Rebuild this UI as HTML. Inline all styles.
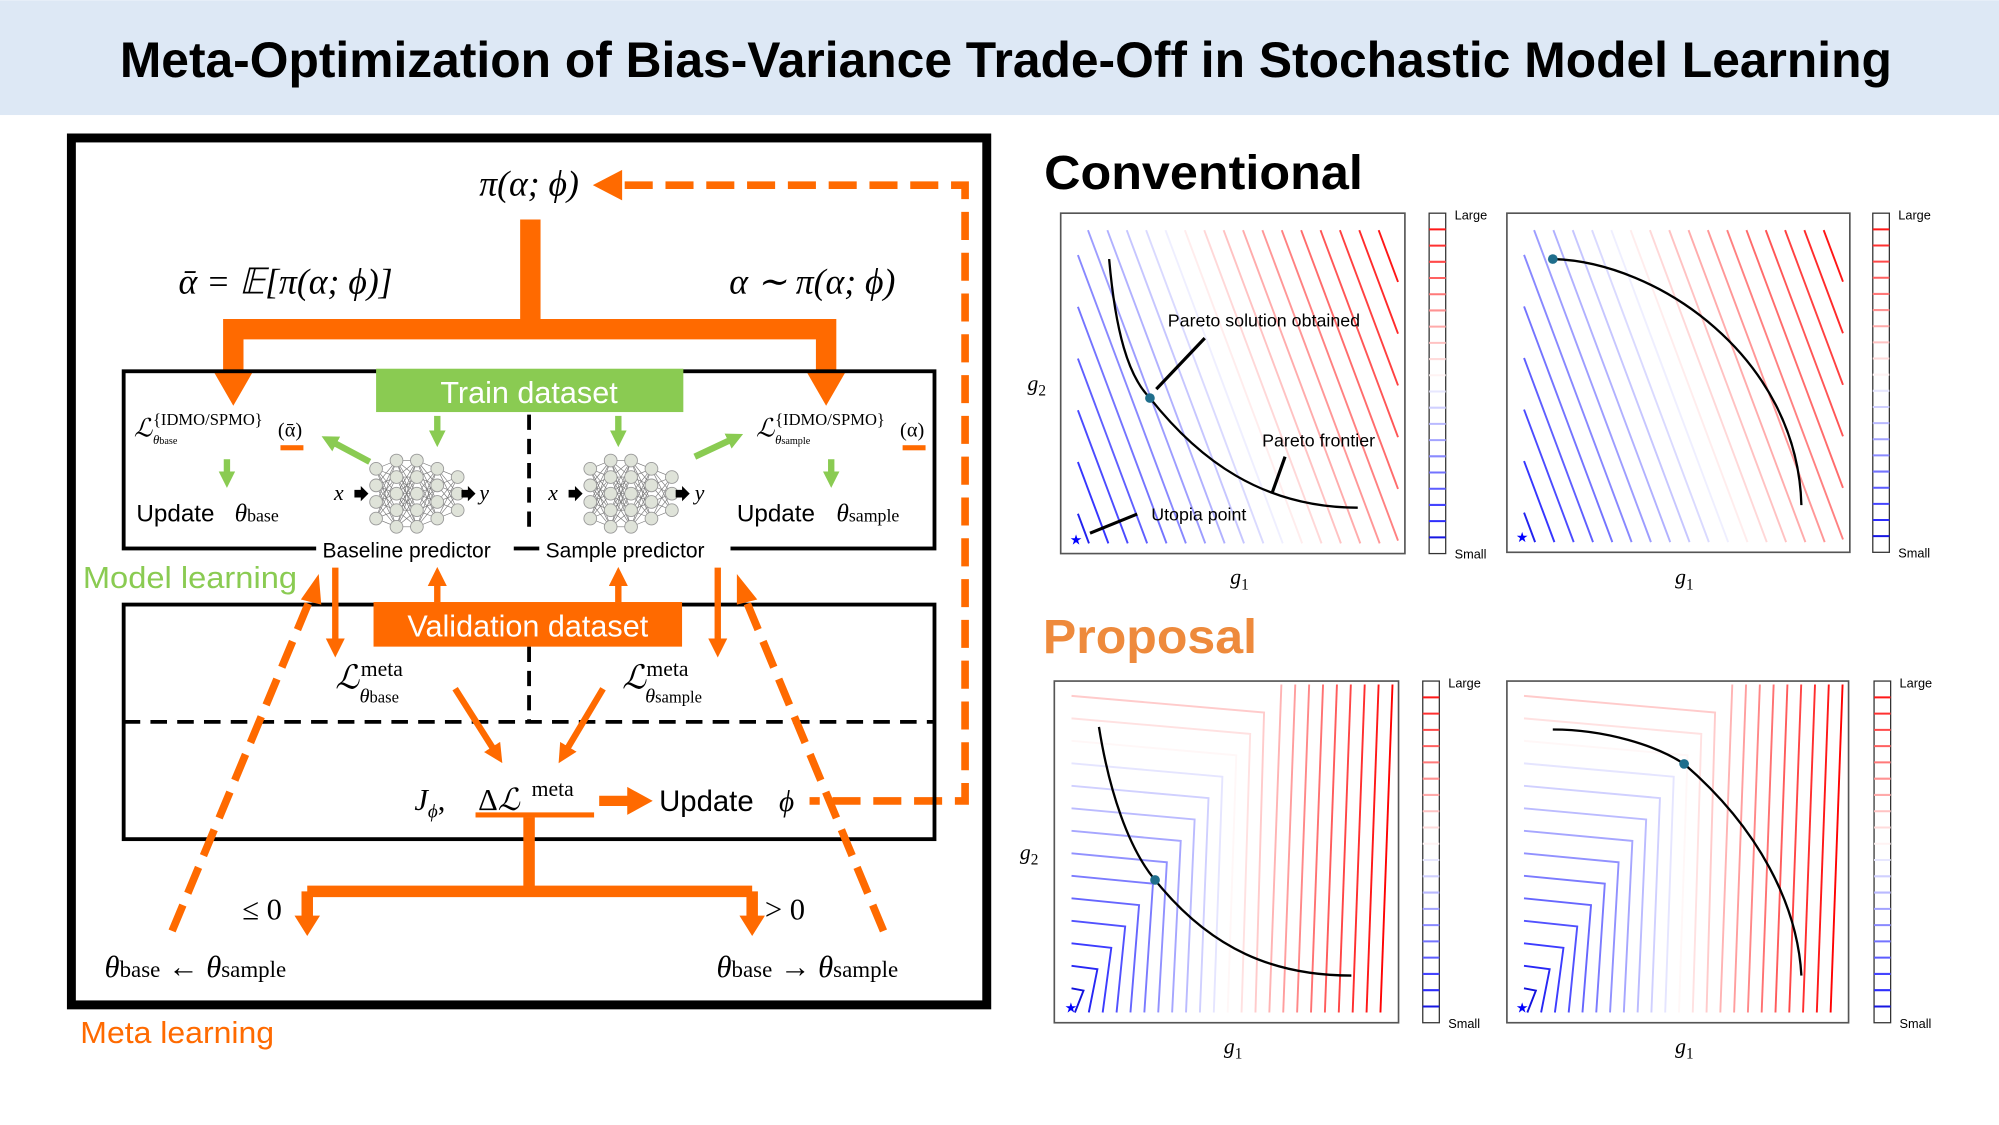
<!DOCTYPE html>
<html><head><meta charset="utf-8"><style>
html,body{margin:0;padding:0;background:#fff;}
svg{display:block;}
.m{font-family:"Liberation Serif",serif;font-style:italic;}
.r{font-family:"Liberation Serif",serif;}
.s{font-family:"Liberation Sans",sans-serif;}
</style></head><body>
<svg id="S" width="1999" height="1125" viewBox="0 0 1568 882" xmlns="http://www.w3.org/2000/svg">
<defs>
<marker id="ao" viewBox="0 0 10 10" refX="5" refY="5" markerWidth="3" markerHeight="3" orient="auto"><path d="M0,0L10,5L0,10z" fill="#ff6a00"/></marker>
<marker id="ag" viewBox="0 0 10 10" refX="5" refY="5" markerWidth="2.6" markerHeight="2.6" orient="auto"><path d="M0,0L10,5L0,10z" fill="#8acb52"/></marker>
</defs>
<rect x="0" y="0" width="1568" height="90" fill="#dde8f5"/>
<text x="789" y="60" text-anchor="middle" class="s" font-weight="bold" font-size="39" fill="#000" textLength="1390" lengthAdjust="spacingAndGlyphs">Meta-Optimization of Bias-Variance Trade-Off in Stochastic Model Learning</text>

<rect x="56" y="108" width="718" height="680" fill="none" stroke="#000" stroke-width="7"/>

<text x="415" y="153" text-anchor="middle" class="m" font-size="28">π(α; ϕ)</text>
<path d="M465,145 L488,133 L488,157z" fill="#ff6a00"/>
<path d="M490,145 H757 V628 H635" fill="none" stroke="#ff6a00" stroke-width="6" stroke-dasharray="22,10"/>
<path d="M416,172 V258 M183,258 H648 M183,250 V296 M648,250 V296" fill="none" stroke="#ff6a00" stroke-width="16"/>
<path d="M168,292 L198,292 L183,318z M633,292 L663,292 L648,318z" fill="#ff6a00"/>
<text x="140" y="230" class="m" font-size="28">ᾱ = 𝔼[π(α; ϕ)]</text>
<text x="572" y="230" class="m" font-size="28">α ∼ π(α; ϕ)</text>

<rect x="97" y="291" width="636" height="139" fill="none" stroke="#000" stroke-width="3"/>
<rect x="295" y="289" width="241" height="34" fill="#8acb52"/>
<text x="415" y="316" text-anchor="middle" class="s" font-size="24" fill="#fff">Train dataset</text>
<line x1="415" y1="325" x2="415" y2="420" stroke="#000" stroke-width="3" stroke-dasharray="12,7"/>
<rect x="248" y="420" width="155" height="20" fill="#fff"/>
<rect x="423" y="420" width="150" height="20" fill="#fff"/>
<text x="253" y="437" class="s" font-size="16.5">Baseline predictor</text>
<text x="428" y="437" class="s" font-size="16.5">Sample predictor</text>

<text x="105" y="342" class="m" font-size="20">ℒ</text>
<text x="120" y="333" class="r" font-size="13">{IDMO/SPMO}</text>
<text x="120" y="348" class="m" font-size="10">θ<tspan class="r" font-style="normal" font-size="8">base</tspan></text>
<text x="218" y="342" class="r" font-size="16">(ᾱ)</text>
<rect x="220" y="349" width="18" height="4" fill="#ff6a00"/>
<text x="593" y="342" class="m" font-size="20">ℒ</text>
<text x="608" y="333" class="r" font-size="13">{IDMO/SPMO}</text>
<text x="608" y="348" class="m" font-size="10">θ<tspan class="r" font-style="normal" font-size="8">sample</tspan></text>
<text x="706" y="342" class="r" font-size="16">(α)</text>
<rect x="708" y="349" width="18" height="4" fill="#ff6a00"/>

<text x="107" y="409" class="s" font-size="19">Update</text>
<text x="184" y="409" class="m" font-size="20">θ<tspan class="r" font-style="normal" font-size="14">base</tspan></text>
<text x="578" y="409" class="s" font-size="19">Update</text>
<text x="656" y="409" class="m" font-size="20">θ<tspan class="r" font-style="normal" font-size="14">sample</tspan></text>

<g stroke="#8acb52" stroke-width="5" fill="none" marker-end="url(#ag)">
<line x1="178" y1="360" x2="178" y2="376"/>
<line x1="652" y1="360" x2="652" y2="376"/>
<line x1="343" y1="326" x2="343" y2="344"/>
<line x1="485" y1="326" x2="485" y2="344"/>
<line x1="290" y1="362" x2="258" y2="345"/>
<line x1="545" y1="358" x2="577" y2="343"/>
</g>
<g id="nn"></g>
<text x="262" y="392" class="m" font-size="17">x</text>
<text x="376" y="392" class="m" font-size="17">y</text>
<text x="430" y="392" class="m" font-size="17">x</text>
<text x="545" y="392" class="m" font-size="17">y</text>

<text x="65" y="461" class="s" font-size="24" fill="#8acb52" textLength="168" lengthAdjust="spacingAndGlyphs">Model learning</text>

<rect x="97" y="474" width="636" height="184" fill="none" stroke="#000" stroke-width="3"/>
<line x1="97" y1="566" x2="733" y2="566" stroke="#000" stroke-width="3" stroke-dasharray="13,8"/>
<line x1="415" y1="507" x2="415" y2="566" stroke="#000" stroke-width="3" stroke-dasharray="12,7"/>
<rect x="293" y="472" width="242" height="35" fill="#ff6a00"/>
<text x="414" y="499" text-anchor="middle" class="s" font-size="24" fill="#fff">Validation dataset</text>

<g stroke="#ff6a00" stroke-width="5" fill="none" marker-end="url(#ao)">
<line x1="263" y1="445" x2="263" y2="508"/>
<line x1="563" y1="445" x2="563" y2="508"/>
<line x1="343" y1="472" x2="343" y2="452"/>
<line x1="485" y1="472" x2="485" y2="452"/>
<line x1="357" y1="540" x2="390" y2="592"/>
<line x1="473" y1="540" x2="442" y2="592"/>
</g>
<g stroke="#ff6a00" stroke-width="6" fill="none" stroke-dasharray="22,10">
<line x1="135" y1="730" x2="244" y2="468"/>
<line x1="693" y1="730" x2="584" y2="468"/>
</g>
<path d="M250,450 L236,470 L252,474z M578,450 L594,470 L578,474z" fill="#ff6a00"/>

<text x="263" y="540" class="m" font-size="26">ℒ</text>
<text x="283" y="530" class="r" font-size="17">meta</text>
<text x="282" y="551" class="m" font-size="16">θ<tspan class="r" font-style="normal" font-size="13">base</tspan></text>
<text x="488" y="540" class="m" font-size="26">ℒ</text>
<text x="507" y="530" class="r" font-size="17">meta</text>
<text x="506" y="551" class="m" font-size="16">θ<tspan class="r" font-style="normal" font-size="13">sample</tspan></text>

<text x="325" y="635" class="m" font-size="24">J<tspan font-size="15" dy="6">ϕ</tspan><tspan dy="-6" class="r" font-style="normal">, </tspan></text>
<text x="375" y="635" class="r" font-size="24">Δ<tspan class="m">ℒ</tspan></text>
<text x="417" y="624" class="r" font-size="17">meta</text>
<rect x="373" y="637" width="93" height="4" fill="#ff6a00"/>
<path d="M470,628 H495" stroke="#ff6a00" stroke-width="8"/>
<path d="M492,617 L512,628 L492,639z" fill="#ff6a00"/>
<text x="517" y="636" class="s" font-size="23">Update</text>
<text x="611" y="636" class="m" font-size="23">ϕ</text>

<path d="M415,641 V699 M241,699 H590 M241,699 V722 M590,699 V722" fill="none" stroke="#ff6a00" stroke-width="9"/>
<path d="M231,718 L251,718 L241,734z M580,718 L600,718 L590,734z" fill="#ff6a00"/>
<text x="190" y="721" class="r" font-size="24">≤ 0</text>
<text x="600" y="721" class="r" font-size="24">&gt; 0</text>
<text x="82" y="766" class="m" font-size="24">θ<tspan class="r" font-style="normal" font-size="18">base</tspan><tspan class="r" font-style="normal"> ← </tspan>θ<tspan class="r" font-style="normal" font-size="18">sample</tspan></text>
<text x="562" y="766" class="m" font-size="24">θ<tspan class="r" font-style="normal" font-size="18">base</tspan><tspan class="r" font-style="normal"> → </tspan>θ<tspan class="r" font-style="normal" font-size="18">sample</tspan></text>
<text x="63" y="818" class="s" font-size="24" fill="#ff6a00" textLength="152" lengthAdjust="spacingAndGlyphs">Meta learning</text>

<text x="819" y="148" class="s" font-weight="bold" font-size="38" textLength="250" lengthAdjust="spacingAndGlyphs">Conventional</text>
<text x="818" y="512" class="s" font-weight="bold" font-size="38" fill="#ee8a3c" textLength="168" lengthAdjust="spacingAndGlyphs">Proposal</text>
<g id="plots"></g>
<text x="806" y="306" class="m" font-size="17">g<tspan class="r" font-style="normal" font-size="12" dy="4">2</tspan></text>
<text x="800" y="674" class="m" font-size="17">g<tspan class="r" font-style="normal" font-size="12" dy="4">2</tspan></text>
<text x="965" y="458" class="m" font-size="17">g<tspan class="r" font-style="normal" font-size="12" dy="4">1</tspan></text>
<text x="1314" y="458" class="m" font-size="17">g<tspan class="r" font-style="normal" font-size="12" dy="4">1</tspan></text>
<text x="960" y="826" class="m" font-size="17">g<tspan class="r" font-style="normal" font-size="12" dy="4">1</tspan></text>
<text x="1314" y="826" class="m" font-size="17">g<tspan class="r" font-style="normal" font-size="12" dy="4">1</tspan></text>

<text x="916" y="256" class="s" font-size="14">Pareto solution obtained</text>
<text x="990" y="350" class="s" font-size="14">Pareto frontier</text>
<text x="903" y="408" class="s" font-size="14">Utopia point</text>
<g stroke="#000" stroke-width="2.5">
<line x1="907" y1="305" x2="945" y2="265"/>
<line x1="998" y1="386" x2="1008" y2="358"/>
<line x1="855" y1="418" x2="892" y2="403"/>
</g>
</svg>
<script>
var NS="http://www.w3.org/2000/svg",S=document.getElementById("plots");
function el(t,a,p){var e=document.createElementNS(NS,t);for(var k in a)e.setAttribute(k,a[k]);(p||S).appendChild(e);return e;}
function col(t){t=Math.max(0,Math.min(1,t));var r,g,b;if(t<0.5){r=g=Math.round(255*2*t*0.95);b=255;if(t<0.1){b=Math.round(200+550*t);} }else{r=255;g=b=Math.round(255*(2-2*t));}return "rgb("+r+","+g+","+b+")";}
function cbar(x,y1,y2){var g=el("g",{});el("rect",{x:x,y:y1,width:13,height:y2-y1,fill:"#fff",stroke:"#333","stroke-width":1},g);
var n=21;for(var i=1;i<n;i++){var yy=y2-(y2-y1)*i/n;el("line",{x1:x,x2:x+13,y1:yy,y2:yy,stroke:col(i/n),"stroke-width":1.6},g);}
var a=el("text",{x:x+20,y:y1+5,"font-family":"Liberation Sans,sans-serif","font-size":10},g);a.textContent="Large";
var b=el("text",{x:x+20,y:y2+4,"font-family":"Liberation Sans,sans-serif","font-size":10},g);b.textContent="Small";}
function frame(x,y,w,h){el("rect",{x:x,y:y,width:w,height:h,fill:"none",stroke:"#555","stroke-width":1.3});}
function conv(X,Y,W,H){var g=el("g",{});var k=2.7,N=24,cmax=k*0.98+0.95;
for(var i=0;i<N;i++){var c=0.1+i*(cmax-0.1)/(N-1);var pts=[];
var ys=[0.03,0.95];var xs=[0.05,0.98];
for(var j=0;j<2;j++){var x=xs[j],yv=c-k*x;if(yv>=ys[0]&&yv<=ys[1])pts.push([x,yv]);}
for(var j=0;j<2;j++){var yv=ys[j],x=(c-yv)/k;if(x>=xs[0]&&x<=xs[1])pts.push([x,yv]);}
if(pts.length<2)continue;pts.sort(function(a,b){return a[0]-b[0];});
el("line",{x1:X+W*pts[0][0],y1:Y+H*(1-pts[0][1]),x2:X+W*pts[pts.length-1][0],y2:Y+H*(1-pts[pts.length-1][1]),stroke:col(c/cmax),"stroke-width":1.5},g);}
frame(X,Y,W,H);}
function prop(X,Y,W,H){var g=el("g",{});var N=23;
for(var i=0;i<N;i++){var c=0.06+i*1.6/N;var cx=0.05+0.58*c,cy=0.04+0.9*c;var d;
var bx=cx-0.025;
if(cy<0.97){var ly=cy+0.08*cx;d="M"+(X+W*0.05)+","+(Y+H*(1-ly))+" L"+(X+W*cx)+","+(Y+H*(1-cy))+" L"+(X+W*bx)+","+(Y+H*0.97);}
else{var tx=cx+0.01;if(tx>1)continue;d="M"+(X+W*tx)+","+(Y+H*0.01)+" L"+(X+W*bx)+","+(Y+H*0.97);}
el("path",{d:d,fill:"none",stroke:col(c/1.6),"stroke-width":1.5},g);}
frame(X,Y,W,H);}
conv(832,167,270,267);cbar(1121,167,434);
conv(1182,167,269,266);cbar(1469,167,433);
prop(827,534,270,268);cbar(1116,534,802);
prop(1182,534,268,268);cbar(1470,534,802);
function curve(d){el("path",{d:d,fill:"none",stroke:"#000","stroke-width":1.8});}
function dot(x,y){el("circle",{cx:x,cy:y,r:3.8,fill:"#1f6e8c"});}
function star(x,y){var t=el("text",{x:x,y:y,"font-size":11,fill:"#00f","text-anchor":"middle","font-family":"DejaVu Sans,sans-serif"});t.textContent="★";}
curve("M870,203 C875,260 885,295 902,312 C940,360 990,398 1065,398");dot(902,312);star(844,427);
curve("M1218,203 C1300,205 1410,280 1413,396");dot(1218,203);star(1194,425);
curve("M862,570 C870,620 885,665 906,690 C950,745 1000,765 1060,765");dot(906,690);star(840,794);
curve("M1218,572 C1260,572 1300,585 1321,599 C1380,650 1410,710 1413,765");dot(1321,599);star(1194,794);
var NNg=document.getElementById("nn");
function nn(x0,y0){var P=[];
for(var c=0;c<5;c++){var n=[4,5,5,4,3][c];var arr=[];for(var i=0;i<n;i++)arr.push([x0+c*16,y0+28-(n-1)*6.5+i*13]);P.push(arr);}
for(var c=0;c<4;c++)for(var a=0;a<P[c].length;a++)for(var b=0;b<P[c+1].length;b++)el("line",{x1:P[c][a][0],y1:P[c][a][1],x2:P[c+1][b][0],y2:P[c+1][b][1],stroke:"#777","stroke-width":0.5},NNg);
for(var c=0;c<5;c++)for(var a=0;a<P[c].length;a++)el("circle",{cx:P[c][a][0],cy:P[c][a][1],r:5,fill:"#dfe3d9",stroke:"#999","stroke-width":0.7},NNg);}
nn(295,359);nn(463,359);
function blk(x,y){el("path",{d:"M"+x+","+(y-3)+" h5 v-3 l6,6 l-6,6 v-3 h-5z",fill:"#000"},NNg);}
blk(278,387);blk(362,387);blk(446,387);blk(530,387);
</script>
</body></html>
